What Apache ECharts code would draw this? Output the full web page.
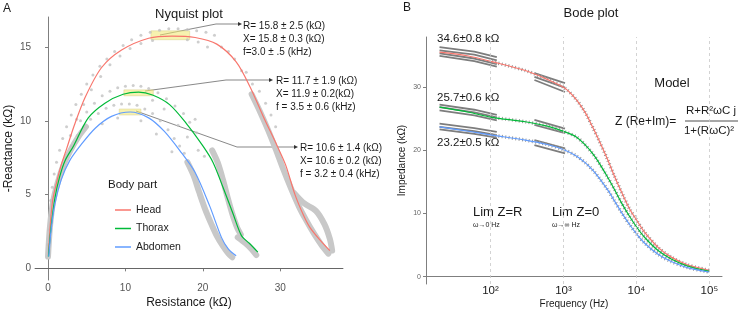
<!DOCTYPE html>
<html>
<head>
<meta charset="utf-8">
<title>Nyquist and Bode plots</title>
<script src="https://cdn.jsdelivr.net/npm/echarts@6/dist/echarts.min.js"></script>
</head>
<body style="margin:0">
<div id="main" style="width:740px;height:310px"></div>
<script type="text/javascript">
var bodyParts = ['Head', 'Thorax', 'Abdomen'];
var colors = ['#F8766D', '#00BA38', '#619CFF'];
var FONT = 'Liberation Sans, Arial, sans-serif';

// ---- Nyquist: fitted curves [resistance kOhm, -reactance kOhm]
var nyqHead = [[0.05,0.9],[0.3,3.0],[0.6,4.6],[1.1,5.8],[1.7,7.0],[2.4,8.1],[3.4,9.7],[4.8,11.6],[6.9,13.6],[9.5,14.8],[13.0,15.6],[16.0,15.75],[19.0,15.65],[21.8,15.2],[24.3,14.0],[26.1,12.3],[27.8,10.3],[29.6,8.3],[30.7,7.0],[31.9,5.0],[33.0,3.6],[33.8,2.8],[35.0,2.0],[36.4,1.2]];
var nyqThorax = [[0.05,0.8],[0.4,2.8],[0.9,4.8],[1.5,6.2],[2.2,7.3],[3.3,8.3],[5.2,10.2],[7.35,11.2],[9.7,11.8],[11.7,11.95],[13.5,11.75],[15.7,11.1],[17.9,9.8],[20.0,8.3],[21.3,7.2],[22.6,5.5],[23.9,3.7],[25.0,2.2],[26.0,1.7],[27.1,1.1]];
var nyqAbdomen = [[0.1,0.8],[0.4,2.6],[0.9,4.4],[1.7,6.0],[2.8,7.3],[4.3,8.4],[6.1,9.5],[8.2,10.3],[10.6,10.6],[13.0,10.2],[15.0,9.3],[17.0,8.0],[19.0,6.5],[20.9,4.2],[22.4,2.1],[23.3,1.3],[24.3,0.85]];

// ---- Nyquist: measured points (grey)
var headDots = [[0.0,1.6],[0.1,2.6],[0.2,3.6],[0.35,4.6],[0.55,5.5],[0.8,6.4],[1.1,7.2],[1.5,8.0],[1.9,8.8],[2.4,9.6],[3.0,10.4],[3.6,11.1],[4.3,11.8],[5.0,12.5],[5.8,13.1],[6.7,13.7],[7.6,14.2],[8.6,14.7],[9.7,15.1],[10.8,15.5],[12.0,15.8],[13.2,16.0],[14.4,16.15],[15.6,16.25],[16.8,16.25],[18.0,16.2],[19.2,16.1],
  [2.9,9.0],[3.7,10.1],[4.6,11.1],[5.6,12.1],[6.8,13.0],[8.0,13.8],[9.3,14.4],[10.6,14.9],[12.0,15.25],[13.5,15.45],[18.0,15.5],[19.4,15.35],[20.6,15.0],
  [20.4,16.0],[21.5,15.8],[22.4,15.0],[23.3,14.7],[24.1,14.2],[25.0,13.4],[25.6,13.3],[26.4,12.5],[27.3,12.0],[28.1,11.2],[28.8,10.4],[29.4,9.6]];
var thoraxDots = [[4.2,10.0],[5.0,10.6],[6.0,11.2],[7.0,11.7],[8.0,12.0],[9.0,12.25],[10.0,12.35],[11.0,12.4],[12.0,12.35],[13.0,12.2],[14.2,11.9],[15.3,11.5],[16.4,11.0],[17.5,10.5],[18.3,9.9],[19.2,9.2],
  [13.5,11.4],[15.0,10.8],[16.8,9.7],[18.0,8.9],[19.4,8.0],[20.2,7.6],[19.0,10.1]];
var abdomenDots = [[3.0,8.3],[3.8,9.0],[4.6,9.6],[5.5,10.1],[6.5,10.5],[7.5,10.85],[8.5,11.05],[9.5,11.15],[10.5,11.15],[11.5,11.05],[12.5,10.8],[13.5,10.5],[14.5,10.0],[15.5,9.4],[16.3,8.8],[17.0,8.3],[17.6,7.8],
  [7.0,9.8],[9.0,10.2],[12.0,10.0],[14.0,9.1],[16.0,7.9]];
// dense runs of measurements
var nyqBands = [
  [[0.0,0.8],[0.25,2.8],[0.65,4.5],[1.25,5.8],[2.0,7.0],[2.9,8.0],[3.9,8.9],[4.9,9.6]],
  [[26.3,11.8],[27.4,10.6],[28.4,9.4],[29.4,8.1],[30.4,6.7],[31.4,5.4],[32.4,4.2],[33.3,3.3],[34.3,2.4],[35.3,1.6],[36.2,1.0]],
  [[31.8,5.1],[33.1,4.4],[34.6,3.9],[35.7,3.0],[36.4,2.0],[36.7,1.2]],
  [[21.2,8.0],[21.9,7.2],[22.6,6.0],[23.2,4.8],[23.8,3.7],[24.4,2.8],[24.9,2.3]],
  [[24.5,2.1],[25.5,1.7],[26.3,1.3],[26.9,0.9]],
  [[18.0,7.2],[18.8,6.3],[19.5,5.2],[20.3,4.0],[21.1,3.0],[21.8,2.2],[22.6,1.5],[23.3,1.0],[23.8,0.75]]
];

// ---- peak summaries (mean ± sd)
var peakR = [15.8, 11.7, 10.6];
var peakRsd = [2.5, 1.9, 1.4];
var peakX = [15.8, 11.9, 10.6];
var peakXsd = [0.3, 0.2, 0.2];
var peakText = [
  ['R= 15.8 ± 2.5 (kΩ)', 'X= 15.8 ± 0.3 (kΩ)', 'f=3.0 ± .5 (kHz)'],
  ['R= 11.7 ± 1.9 (kΩ)', 'X= 11.9 ± 0.2(kΩ)', 'f = 3.5 ± 0.6 (kHz)'],
  ['R= 10.6 ± 1.4 (kΩ)', 'X= 10.6 ± 0.2 (kΩ)', 'f = 3.2 ± 0.4 (kHz)']
];

// ---- Bode: fitted curves [frequency Hz, |Z| kOhm]
var bodeHead = [[20,35.5],[50,34.9],[104,34.0],[300,32.6],[600,31.2],[1050,29.8],[1500,28.0],[2000,25.9],[2500,23.7],[3000,21.8],[4000,18.6],[5000,15.9],[6300,13.3],[8000,10.8],[10000,9.0],[13000,7.0],[20000,4.6],[30000,3.1],[50000,1.9],[100000,1.0]];
var bodeThorax = [[20,26.8],[50,26.0],[104,25.2],[300,24.5],[600,23.8],[1050,22.9],[1500,22.1],[2000,20.8],[2500,19.5],[3000,18.2],[4000,15.8],[5000,13.8],[6300,11.6],[8000,9.6],[10000,7.9],[13000,6.2],[20000,4.1],[30000,2.8],[50000,1.7],[100000,0.85]];
var bodeAbdomen = [[20,23.7],[50,23.0],[104,22.4],[300,21.6],[600,20.9],[1050,20.0],[1500,19.1],[2000,18.0],[2500,16.9],[3000,15.8],[4000,13.8],[5000,12.0],[6300,10.1],[8000,8.3],[10000,6.8],[13000,5.3],[20000,3.5],[30000,2.4],[50000,1.45],[100000,0.75]];
// replicate measurement runs
var bodeReps = [
  [[20,36.3],[60,35.6],[122,34.7]], [[20,35.8],[60,35.1],[122,34.2]], [[20,35.3],[60,34.5],[122,33.6]], [[20,34.9],[60,34.1],[122,33.2]],
  [[400,32.2],[1050,30.6]], [[400,31.6],[1050,29.9]], [[400,31.1],[1050,29.2]],
  [[20,27.2],[60,26.4],[122,25.6]], [[20,26.8],[60,26.0],[122,25.2]], [[20,26.3],[60,25.5],[122,24.7]],
  [[400,24.8],[1050,23.4]], [[400,24.0],[1050,22.7]],
  [[20,24.2],[60,23.5],[122,22.9]], [[20,23.7],[60,23.0],[122,22.4]], [[20,23.3],[60,22.6],[122,22.0]],
  [[400,21.6],[1050,20.3]], [[400,20.8],[1050,19.5]]
];
var lowZText = ['34.6±0.8 kΩ', '25.7±0.6 kΩ', '23.2±0.5 kΩ'];
var decades = [100, 1000, 10000, 100000];
var sup = {2: '²', 3: '³', 4: '⁴', 5: '⁵'};

var nyqFits = [nyqHead, nyqThorax, nyqAbdomen];
var nyqDots = [headDots, thoraxDots, abdomenDots];
var bodeFits = [bodeHead, bodeThorax, bodeAbdomen];

var myChart = echarts.init(document.getElementById('main'));

var series = [];
// nyquist grey runs and points
nyqBands.forEach(function (b) {
  series.push({type: 'line', xAxisIndex: 0, yAxisIndex: 0, data: b, showSymbol: false, silent: true, smooth: 0.3, z: 1,
    lineStyle: {color: '#c8c8c8', width: 6, cap: 'round', join: 'round'}});
});
nyqDots.forEach(function (d) {
  series.push({type: 'scatter', xAxisIndex: 0, yAxisIndex: 0, data: d, symbolSize: 3, silent: true, z: 1,
    itemStyle: {color: '#c2c2c2'}});
});
// nyquist fits with peak boxes
nyqFits.forEach(function (d, i) {
  var s = {name: bodyParts[i], type: 'line', xAxisIndex: 0, yAxisIndex: 0, data: d, showSymbol: false, smooth: 0.3, z: 3,
    lineStyle: {color: colors[i], width: 1.2}, itemStyle: {color: colors[i]},
    markArea: {silent: true, itemStyle: {color: 'rgba(240,232,110,0.55)', borderColor: '#d6cf8a', borderWidth: 0.5},
      data: [[{coord: [peakR[i] - peakRsd[i], peakX[i] - peakXsd[i]]}, {coord: [peakR[i] + peakRsd[i], peakX[i] + peakXsd[i]]}]]}};
  if (i === 0) {
    s.markLine = {silent: true, symbol: 'none', label: {show: false}, lineStyle: {color: '#666', width: 1, type: 'solid'}, data: [{yAxis: 0}]};
  }
  series.push(s);
});
// bode grey replicate runs
bodeReps.forEach(function (r, k) {
  var s = {type: 'line', xAxisIndex: 1, yAxisIndex: 1, data: r, showSymbol: false, silent: true, z: 1,
    lineStyle: {color: '#7d7d7d', width: 1.8}};
  if (k === 0) {
    s.markLine = {silent: true, symbol: 'none', label: {show: false},
      lineStyle: {color: '#c8c8c8', width: 0.8, type: [3, 3]},
      data: decades.map(function (v) { return {xAxis: v}; })};
  }
  series.push(s);
});
// bode grey measured ticks along each curve
bodeFits.forEach(function (d) {
  series.push({type: 'line', xAxisIndex: 1, yAxisIndex: 1, data: d.filter(function (p) { return p[0] >= 100; }),
    showSymbol: false, silent: true, smooth: 0.3, z: 2,
    lineStyle: {color: '#9a9a9a', width: 3.5, type: [1, 2.4], cap: 'butt'}});
});
bodeFits.forEach(function (d, i) {
  series.push({name: bodyParts[i], type: 'line', xAxisIndex: 1, yAxisIndex: 1, data: d, showSymbol: false, smooth: 0.3, z: 3,
    lineStyle: {color: colors[i], width: 1.2}, itemStyle: {color: colors[i]}});
});

// annotations
var gfx = [];
function txt(x, y, s, size, align, color) {
  gfx.push({type: 'text', x: x, y: y, silent: true,
    style: {text: s, fill: color || '#1a1a1a', font: size + 'px ' + FONT, textAlign: align || 'left', textVerticalAlign: 'middle'}});
}
txt(3, 9, 'A', 12);
txt(403, 8, 'B', 12);
txt(189, 14, 'Nyquist plot', 13, 'center');
txt(591, 13, 'Bode plot', 13, 'center');
txt(108, 185, 'Body part', 11.5);

var arrows = [
  [[160, 35], [216, 24], [239, 24]],
  [[145, 91], [226, 80], [270, 80]],
  [[136, 111], [237, 147], [295, 147]]
];
var textAt = [[243, 26], [276, 81], [300, 148]];
arrows.forEach(function (a, i) {
  gfx.push({type: 'polyline', silent: true, shape: {points: a}, style: {stroke: '#555', lineWidth: 0.7, fill: null}});
  var e = a[a.length - 1];
  gfx.push({type: 'polygon', silent: true, shape: {points: [[e[0] - 1, e[1] - 2], [e[0] + 3, e[1]], [e[0] - 1, e[1] + 2]]}, style: {fill: '#333'}});
  peakText[i].forEach(function (s, k) {
    txt(textAt[i][0], textAt[i][1] + k * 13, s, 10);
  });
});
txt(437, 39, lowZText[0], 11.5);
txt(437, 98, lowZText[1], 11.5);
txt(437, 143, lowZText[2], 11.5);
txt(672, 83, 'Model', 13, 'center');
txt(615, 122, 'Z (Re+Im)=', 12);
txt(711, 111, 'R+R²ωC j', 11.5, 'center');
txt(709, 131, '1+(RωC)²', 11.5, 'center');
gfx.push({type: 'line', silent: true, shape: {x1: 685, y1: 121, x2: 738, y2: 121}, style: {stroke: '#222', lineWidth: 0.8}});
txt(473, 212, 'Lim Z=R', 13);
txt(473, 225, 'ω→0 Hz', 7);
txt(552, 212, 'Lim Z=0', 13);
txt(552, 225, 'ω→∞ Hz', 7);

myChart.setOption({
  animation: false,
  textStyle: {fontFamily: FONT},
  grid: [
    {left: 35, right: 397, top: 17, bottom: 30, outerBoundsMode: 'none', containLabel: false},
    {left: 426, right: 18, top: 37, bottom: 26, outerBoundsMode: 'none', containLabel: false}
  ],
  legend: {
    data: bodyParts, orient: 'vertical', left: 110, top: 199, icon: 'rect', itemWidth: 16, itemHeight: 1.5, itemGap: 6.5,
    selectedMode: false, textStyle: {fontSize: 10.5, color: '#222', lineHeight: 12}
  },
  xAxis: [
    {gridIndex: 0, type: 'value', min: -1.68, max: 38.1, minInterval: 10, maxInterval: 10,
      name: 'Resistance (kΩ)', nameLocation: 'middle', nameGap: 17, nameMoveOverlap: false, nameTextStyle: {fontSize: 12, color: '#1a1a1a'},
      axisLine: {lineStyle: {color: '#7f7f7f'}}, axisTick: {length: 3, lineStyle: {color: '#7f7f7f'}},
      axisLabel: {fontSize: 10, color: '#555', margin: 3, showMinLabel: false, showMaxLabel: false}, splitLine: {show: false}},
    {gridIndex: 1, type: 'log', min: 13.05, max: 149000,
      name: 'Frequency (Hz)', nameLocation: 'middle', nameGap: 15, nameMoveOverlap: false, nameTextStyle: {fontSize: 10, color: '#1a1a1a'},
      axisLine: {lineStyle: {color: '#7f7f7f'}}, axisTick: {show: false},
      axisLabel: {fontSize: 11.5, color: '#1a1a1a', margin: 1, showMinLabel: false, showMaxLabel: false,
        formatter: function (v) {
          var e = Math.round(Math.log10(v));
          return Math.abs(Math.log10(v) - e) < 1e-6 && sup[e] ? '10' + sup[e] : '';
        }},
      splitLine: {show: false}}
  ],
  yAxis: [
    {gridIndex: 0, type: 'value', min: -0.79, max: 17.04, minInterval: 5, maxInterval: 5,
      name: '-Reactance (kΩ)', nameLocation: 'middle', nameGap: 20, nameMoveOverlap: false, nameTextStyle: {fontSize: 12, color: '#1a1a1a'},
      axisLine: {show: true, lineStyle: {color: '#7f7f7f'}}, axisTick: {show: true, length: 3, lineStyle: {color: '#7f7f7f'}},
      axisLabel: {fontSize: 10, color: '#555', margin: 4, showMinLabel: false, showMaxLabel: false}, splitLine: {show: false}},
    {gridIndex: 1, type: 'value', min: -1.15, max: 37.9, minInterval: 10, maxInterval: 10,
      name: 'Impedance (kΩ)', nameLocation: 'middle', nameGap: 19, nameMoveOverlap: false, nameTextStyle: {fontSize: 10, color: '#1a1a1a'},
      axisLine: {show: true, lineStyle: {color: '#7f7f7f'}}, axisTick: {show: true, length: 3, lineStyle: {color: '#7f7f7f'}},
      axisLabel: {fontSize: 7, color: '#666', margin: 5, showMinLabel: false, showMaxLabel: false}, splitLine: {show: false}}
  ],
  graphic: gfx,
  series: series
});
</script>
</body>
</html>
